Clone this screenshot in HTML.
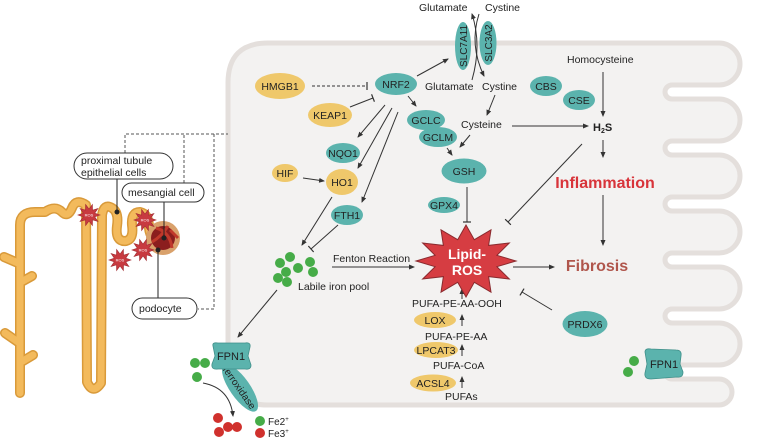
<!DOCTYPE html>
<html><head><meta charset="utf-8"><style>
html,body{margin:0;padding:0;background:#fff;}
svg{display:block;font-family:"Liberation Sans",Arial,sans-serif;}
</style></head><body>
<svg width="758" height="440" viewBox="0 0 758 440" xmlns="http://www.w3.org/2000/svg">
<defs>
<marker id="ar" markerWidth="6" markerHeight="6" refX="5" refY="3" orient="auto" markerUnits="userSpaceOnUse"><path d="M0,0.5 L6,3 L0,5.5 Z" fill="#333"/></marker>
<marker id="tb" markerWidth="2" markerHeight="8" refX="1" refY="4" orient="auto" markerUnits="userSpaceOnUse"><path d="M1,0 L1,8" stroke="#333" stroke-width="1.2"/></marker>
<polygon id="sst" points="11,0 5.7,1.85 8.9,6.47 3.53,4.85 3.4,10.46 0,6 -3.4,10.46 -3.53,4.85 -8.9,6.47 -5.7,1.85 -11,0 -5.7,-1.85 -8.9,-6.47 -3.53,-4.85 -3.4,-10.46 0,-6 3.4,-10.46 3.53,-4.85 8.9,-6.47 5.7,-1.85" fill="#c83a40" stroke="#a02a30" stroke-width="0.6"/>
</defs>

<!-- cell -->
<path d="M268,43 L719,43 A21,21 0 0 1 719,85 L672,85 A7,7 0 0 0 672,99 L719,99 A21,21 0 0 1 719,141 L672,141 A7,7 0 0 0 672,155 L719,155 A21,21 0 0 1 719,197 L672,197 A7,7 0 0 0 672,211 L719,211 A21,21 0 0 1 719,253 L672,253 A7,7 0 0 0 672,267 L719,267 A21,21 0 0 1 719,309 L672,309 A7,7 0 0 0 672,323 L719,323 A21,21 0 0 1 719,365 L672,365 A7,7 0 0 0 672,379 L719,379 A13,13 0 0 1 719,405 L268,405 Q228,405 228,365 L228,83 Q228,43 268,43 Z" fill="#f3f2f1" stroke="#e4dfdc" stroke-width="5"/>

<!-- nephron -->
<g fill="none" stroke-linecap="round" stroke-linejoin="round">
<g stroke="#d99a3a" stroke-width="10">
<path d="M20,393 L20,225 Q20,212 35,212 L45,212 Q55,205 62,212 Q68,218 72,208 Q76,198 86,205 L87,382 Q93,395 101,383 L102,215 Q104,203 112,208 Q119,212 117,226 Q115,242 126,241 Q134,239 132,225 Q131,212 140,212 Q149,214 149,228 Q150,240 160,238"/>
<path d="M4,257 L18,263 M23,281 L32,276 M5,333 L18,342 M23,361 L33,355"/>
</g>
<g stroke="#f3ba5c" stroke-width="7">
<path d="M20,393 L20,225 Q20,212 35,212 L45,212 Q55,205 62,212 Q68,218 72,208 Q76,198 86,205 L87,382 Q93,395 101,383 L102,215 Q104,203 112,208 Q119,212 117,226 Q115,242 126,241 Q134,239 132,225 Q131,212 140,212 Q149,214 149,228 Q150,240 160,238"/>
<path d="M4,257 L18,263 M23,281 L32,276 M5,333 L18,342 M23,361 L33,355"/>
</g>
</g>
<circle cx="163" cy="238" r="17" fill="#d9a16b"/>
<circle cx="163" cy="238" r="12" fill="#8b1e1e"/>
<path d="M156,228 Q170,232 172,248 M152,242 Q162,236 168,226 M170,230 L178,238" stroke="#c0392b" stroke-width="3" fill="none"/>
<use href="#sst" x="89" y="215"/><use href="#sst" x="145" y="220"/><use href="#sst" x="120" y="260"/><use href="#sst" x="143" y="250"/>
<g font-size="4" fill="#fff" text-anchor="middle"><text x="89" y="216.5">ROS</text><text x="145" y="221.5">ROS</text><text x="120" y="261.5">ROS</text><text x="143" y="251.5">ROS</text></g>

<!-- dashed connectors -->
<g stroke="#555" stroke-width="1" stroke-dasharray="3,2" fill="none">
<path d="M125,153 L125,134 L228,134 M184,183 L184,134 M214,134 L214,309 L198,309"/>
</g>
<g stroke="#222" stroke-width="1"><line x1="117" y1="179" x2="117" y2="212"/><line x1="164" y1="202" x2="164" y2="238"/><line x1="158" y1="298" x2="158" y2="250"/></g>
<circle cx="117" cy="212" r="2.5" fill="#222"/><circle cx="164" cy="238" r="2.5" fill="#222"/><circle cx="158" cy="250" r="2.5" fill="#222"/>
<g fill="#fff" stroke="#333" stroke-width="1"><rect x="74" y="153" width="99" height="26" rx="13"/><rect x="122" y="183" width="82" height="19" rx="9.5"/><rect x="132" y="298" width="65" height="21" rx="10.5"/></g>
<g font-size="10.5" fill="#222"><text x="81" y="164">proximal tubule</text><text x="81" y="176">epithelial cells</text><text x="128" y="196">mesangial cell</text><text x="139" y="312">podocyte</text></g>

<!-- transporters -->
<ellipse cx="463" cy="46" rx="8" ry="24" fill="#5bb3ad"/>
<ellipse cx="488" cy="43" rx="8.5" ry="22" fill="#5bb3ad"/>
<text transform="translate(467,46) rotate(-90)" font-size="10" text-anchor="middle" fill="#222">SLC7A11</text>
<text transform="translate(492,43) rotate(-90)" font-size="10" text-anchor="middle" fill="#222">SLC3A2</text>
<path d="M472,80 Q482,45 472,14" stroke="#333" fill="none" marker-end="url(#ar)"/>
<path d="M479,14 Q469,45 484,76" stroke="#333" fill="none" marker-end="url(#ar)"/>

<g font-size="10.5" fill="#222">
<text x="419" y="11">Glutamate</text><text x="485" y="11">Cystine</text>
<text x="425" y="90">Glutamate</text><text x="482" y="90">Cystine</text>
<text x="461" y="128">Cysteine</text>
<text x="567" y="63">Homocysteine</text>
<text x="333" y="262">Fenton Reaction</text>
<text x="298" y="290">Labile iron pool</text>
<text x="412" y="307">PUFA-PE-AA-OOH</text>
<text x="425" y="340">PUFA-PE-AA</text>
<text x="433" y="369">PUFA-CoA</text>
<text x="445" y="400">PUFAs</text>
</g>
<text x="593" y="131" font-size="11" font-weight="bold" fill="#222">H<tspan font-size="7" dy="2">2</tspan><tspan dy="-2">S</tspan></text>
<text x="605" y="188" font-size="16" font-weight="bold" fill="#d8343a" text-anchor="middle">Inflammation</text>
<text x="597" y="271" font-size="16" font-weight="bold" fill="#b0564c" text-anchor="middle">Fibrosis</text>

<!-- ellipses -->
<g fill="#efc86b"><ellipse cx="280" cy="86" rx="25" ry="13"/><ellipse cx="330" cy="115" rx="22" ry="12"/><ellipse cx="285" cy="173" rx="13" ry="9"/><ellipse cx="342" cy="182" rx="16" ry="13"/><ellipse cx="435" cy="320" rx="21" ry="8"/><ellipse cx="436" cy="350" rx="22" ry="8"/><ellipse cx="433" cy="383" rx="23" ry="8.5"/></g>
<g fill="#5bb3ad"><ellipse cx="396" cy="84" rx="21" ry="11"/><ellipse cx="546" cy="86" rx="16" ry="10"/><ellipse cx="579" cy="100" rx="16" ry="10"/><ellipse cx="426" cy="120" rx="19" ry="10"/><ellipse cx="438" cy="137" rx="19" ry="10"/><ellipse cx="343" cy="153" rx="17" ry="10"/><ellipse cx="464" cy="171" rx="22.5" ry="12.5"/><ellipse cx="444" cy="205" rx="16" ry="8"/><ellipse cx="347" cy="215" rx="16" ry="10"/><ellipse cx="585" cy="324" rx="22.5" ry="13"/></g>
<g font-size="10.5" fill="#222" text-anchor="middle">
<text x="280" y="90">HMGB1</text><text x="330" y="119">KEAP1</text><text x="285" y="177">HIF</text><text x="342" y="186">HO1</text>
<text x="435" y="324">LOX</text><text x="436" y="354">LPCAT3</text><text x="433" y="387">ACSL4</text>
<text x="396" y="88">NRF2</text><text x="546" y="90">CBS</text><text x="579" y="104">CSE</text><text x="426" y="124">GCLC</text><text x="438" y="141">GCLM</text>
<text x="343" y="157">NQO1</text><text x="464" y="175">GSH</text><text x="444" y="209">GPX4</text><text x="347" y="219">FTH1</text><text x="585" y="328">PRDX6</text>
</g>

<!-- arrows -->
<g stroke="#333" stroke-width="1" fill="none">
<line x1="312" y1="86" x2="367" y2="86" stroke-dasharray="3,2" marker-end="url(#tb)"/>
<line x1="350" y1="107" x2="373" y2="98" marker-end="url(#tb)"/>
<line x1="417" y1="76" x2="448" y2="59" marker-end="url(#ar)"/>
<line x1="408" y1="96" x2="416" y2="106" marker-end="url(#ar)"/>
<line x1="495" y1="95" x2="487" y2="115" marker-end="url(#ar)"/>
<line x1="512" y1="126" x2="588" y2="126" marker-end="url(#ar)"/>
<line x1="603" y1="72" x2="603" y2="116" marker-end="url(#ar)"/>
<line x1="470" y1="135" x2="460" y2="147" marker-end="url(#ar)"/>
<line x1="447" y1="148" x2="452" y2="155" marker-end="url(#ar)"/>
<line x1="467" y1="187" x2="467" y2="222" marker-end="url(#tb)"/>
<line x1="582" y1="144" x2="508" y2="222" marker-end="url(#tb)"/>
<line x1="603" y1="140" x2="603" y2="157" marker-end="url(#ar)"/>
<line x1="603" y1="195" x2="603" y2="245" marker-end="url(#ar)"/>
<line x1="385" y1="105" x2="358" y2="137" marker-end="url(#ar)"/>
<line x1="392" y1="108" x2="358" y2="168" marker-end="url(#ar)"/>
<line x1="398" y1="112" x2="362" y2="202" marker-end="url(#ar)"/>
<line x1="303" y1="178" x2="324" y2="181" marker-end="url(#ar)"/>
<line x1="332" y1="197" x2="302" y2="245" marker-end="url(#ar)"/>
<line x1="338" y1="225" x2="311" y2="249" marker-end="url(#tb)"/>
<line x1="332" y1="267" x2="414" y2="267" marker-end="url(#ar)"/>
<line x1="513" y1="267" x2="554" y2="267" marker-end="url(#ar)"/>
<line x1="552" y1="310" x2="522" y2="292" marker-end="url(#tb)"/>
<line x1="462" y1="299" x2="462" y2="289" marker-end="url(#ar)"/>
<line x1="462" y1="326" x2="462" y2="315" marker-end="url(#ar)"/>
<line x1="462" y1="356" x2="462" y2="345" marker-end="url(#ar)"/>
<line x1="462" y1="388" x2="462" y2="377" marker-end="url(#ar)"/>
<line x1="277" y1="290" x2="238" y2="337" marker-end="url(#ar)"/>
<path d="M203,383 Q230,388 233,416" marker-end="url(#ar)"/>
</g>

<!-- Lipid-ROS star -->
<polygon points="516,261 496.9,266.7 509.3,279 488.6,276.6 491,292.2 474.3,282.3 466,297 457.7,282.3 441,292.2 443.4,276.6 422.7,279 435.1,266.7 416,261 435.1,255.3 422.7,243 443.4,245.4 441,229.8 457.7,239.7 466,225 474.3,239.7 491,229.8 488.6,245.4 509.3,243 496.9,255.3" fill="#d63d42" stroke="#8a2a2e" stroke-width="1"/>
<g font-size="14" font-weight="bold" fill="#fff" text-anchor="middle"><text x="467" y="259">Lipid-</text><text x="467" y="275">ROS</text></g>

<!-- iron -->
<g fill="#46ac48">
<circle cx="280" cy="263" r="5"/><circle cx="290" cy="257" r="5"/><circle cx="298" cy="268" r="5"/><circle cx="310" cy="262" r="5"/><circle cx="313" cy="272" r="5"/><circle cx="278" cy="278" r="5"/><circle cx="287" cy="282" r="5"/><circle cx="286" cy="272" r="5"/>
<circle cx="195" cy="363" r="5"/><circle cx="205" cy="363" r="5"/><circle cx="197" cy="377" r="5"/>
<circle cx="634" cy="361" r="5"/><circle cx="628" cy="372" r="5"/>
<circle cx="260" cy="421" r="5"/>
</g>
<g fill="#d0312d"><circle cx="218" cy="418" r="5"/><circle cx="228" cy="427" r="5"/><circle cx="237" cy="427" r="5"/><circle cx="219" cy="432" r="5"/><circle cx="260" cy="433" r="5"/></g>
<g font-size="10" fill="#222"><text x="268" y="425">Fe2<tspan font-size="6" dy="-4">+</tspan></text><text x="268" y="437">Fe3<tspan font-size="6" dy="-4">+</tspan></text></g>

<!-- FPN1 left -->
<ellipse cx="240" cy="388" rx="28" ry="10" transform="rotate(55 240 388)" fill="#5bb3ad"/>
<text transform="translate(239,388) rotate(55)" font-size="10" text-anchor="middle" fill="#222" dy="3">ferroxidase</text>
<path d="M213,346 Q212,342 218,343 L245,343 Q251,342 250,347 L248,356 L251,365 Q251,370 245,369 L218,369 Q211,370 212,364 L215,356 Z" fill="#5bb3ad" stroke="#3f8f89" stroke-width="0.8"/>
<text x="231" y="360" font-size="11" text-anchor="middle" fill="#222">FPN1</text>
<!-- FPN1 right -->
<path d="M645,352 Q645,348 651,349 L676,350 Q682,350 681,356 L680,364 L683,372 Q683,378 677,377 L651,379 Q644,379 645,373 L647,364 Z" fill="#5bb3ad" stroke="#3f8f89" stroke-width="0.8"/>
<text x="664" y="368" font-size="11" text-anchor="middle" fill="#222">FPN1</text>
</svg>
</body></html>
